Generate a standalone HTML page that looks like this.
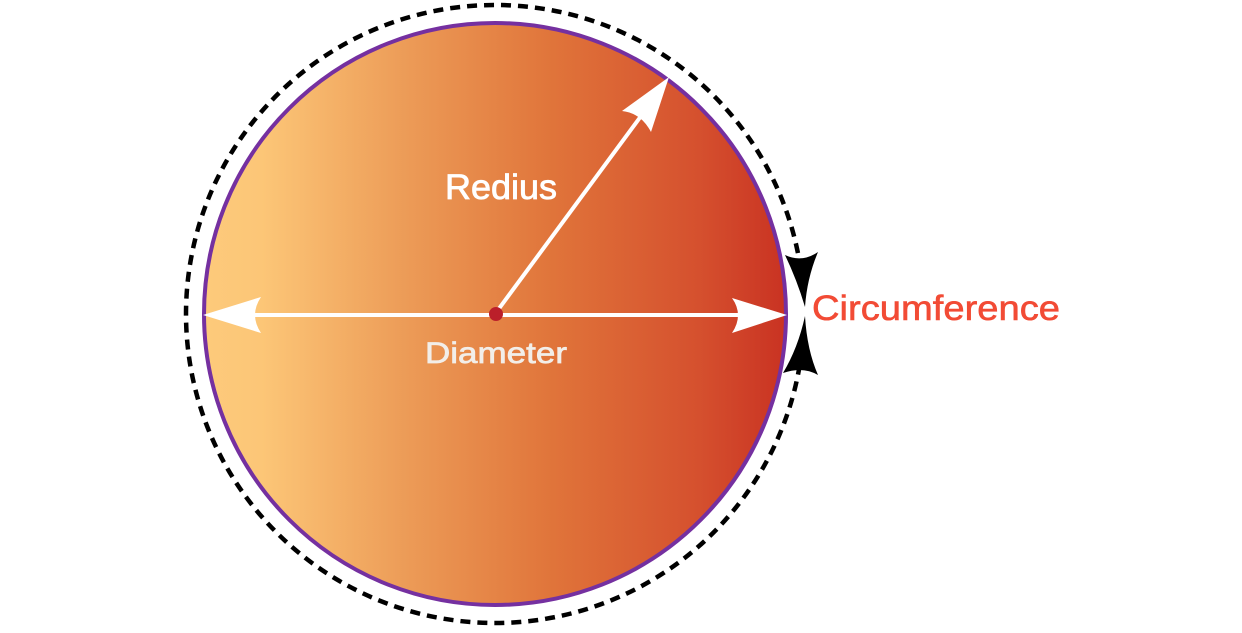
<!DOCTYPE html>
<html>
<head>
<meta charset="utf-8">
<style>
html,body{margin:0;padding:0;background:#fff;}
svg{display:block;}
</style>
</head>
<body>
<svg width="1242" height="633" viewBox="0 0 1242 633" xmlns="http://www.w3.org/2000/svg">
  <defs>
    <linearGradient id="g" x1="203" y1="0" x2="787" y2="0" gradientUnits="userSpaceOnUse">
      <stop offset="0" stop-color="#fdca7b"/>
      <stop offset="0.1" stop-color="#fcc677"/>
      <stop offset="0.35" stop-color="#ec9b57"/>
      <stop offset="0.6" stop-color="#e0743a"/>
      <stop offset="0.85" stop-color="#d5502e"/>
      <stop offset="1" stop-color="#c93222"/>
    </linearGradient>
  </defs>
  <!-- dashed circumference -->
  <circle cx="495" cy="314" r="309" fill="none" stroke="#000" stroke-width="4.5" stroke-dasharray="10 7"/>
  <!-- main circle -->
  <circle cx="495" cy="314" r="291" fill="url(#g)" stroke="#7530a0" stroke-width="4"/>
  <!-- gap cover around circumference arrows -->
  <rect x="790" y="262" width="30" height="105" fill="#fff"/>
  <!-- circumference arrowheads -->
  <path d="M785,255 Q802,263 818,252 Q807,278 805,307 Q797,280 785,255 Z" fill="#000"/>
  <path d="M783,373 Q803,366 818,375 Q807,350 805,316 Q798,348 783,373 Z" fill="#000"/>
  <!-- diameter line -->
  <line x1="250" y1="315" x2="745" y2="315" stroke="#fff" stroke-width="4"/>
  <path d="M203,315 L261,297 Q249,315 261,333 Z" fill="#fff"/>
  <path d="M787,315 L732,298 Q744,315 732,333 Z" fill="#fff"/>
  <!-- radius line -->
  <line x1="495" y1="314" x2="644" y2="112" stroke="#fff" stroke-width="4"/>
  <path d="M669,77 L622,111 Q641,113 651,132 Z" fill="#fff"/>
  <!-- center dot -->
  <circle cx="496" cy="314" r="7" fill="#bb1f2a"/>
  <!-- labels -->
  <text x="445" y="199" font-family="Liberation Sans, sans-serif" font-size="35" fill="#fff" stroke="#fff" stroke-width="0.8" textLength="112" lengthAdjust="spacingAndGlyphs">Redius</text>
  <text x="425" y="363" font-family="Liberation Sans, sans-serif" font-size="30" fill="#f2eee9" stroke="#f2eee9" stroke-width="0.7" textLength="142" lengthAdjust="spacingAndGlyphs">Diameter</text>
  <text x="812" y="320" font-family="Liberation Sans, sans-serif" font-size="35" fill="#f24b35" stroke="#f24b35" stroke-width="0.6" textLength="248" lengthAdjust="spacingAndGlyphs">Circumference</text>
</svg>
</body>
</html>
